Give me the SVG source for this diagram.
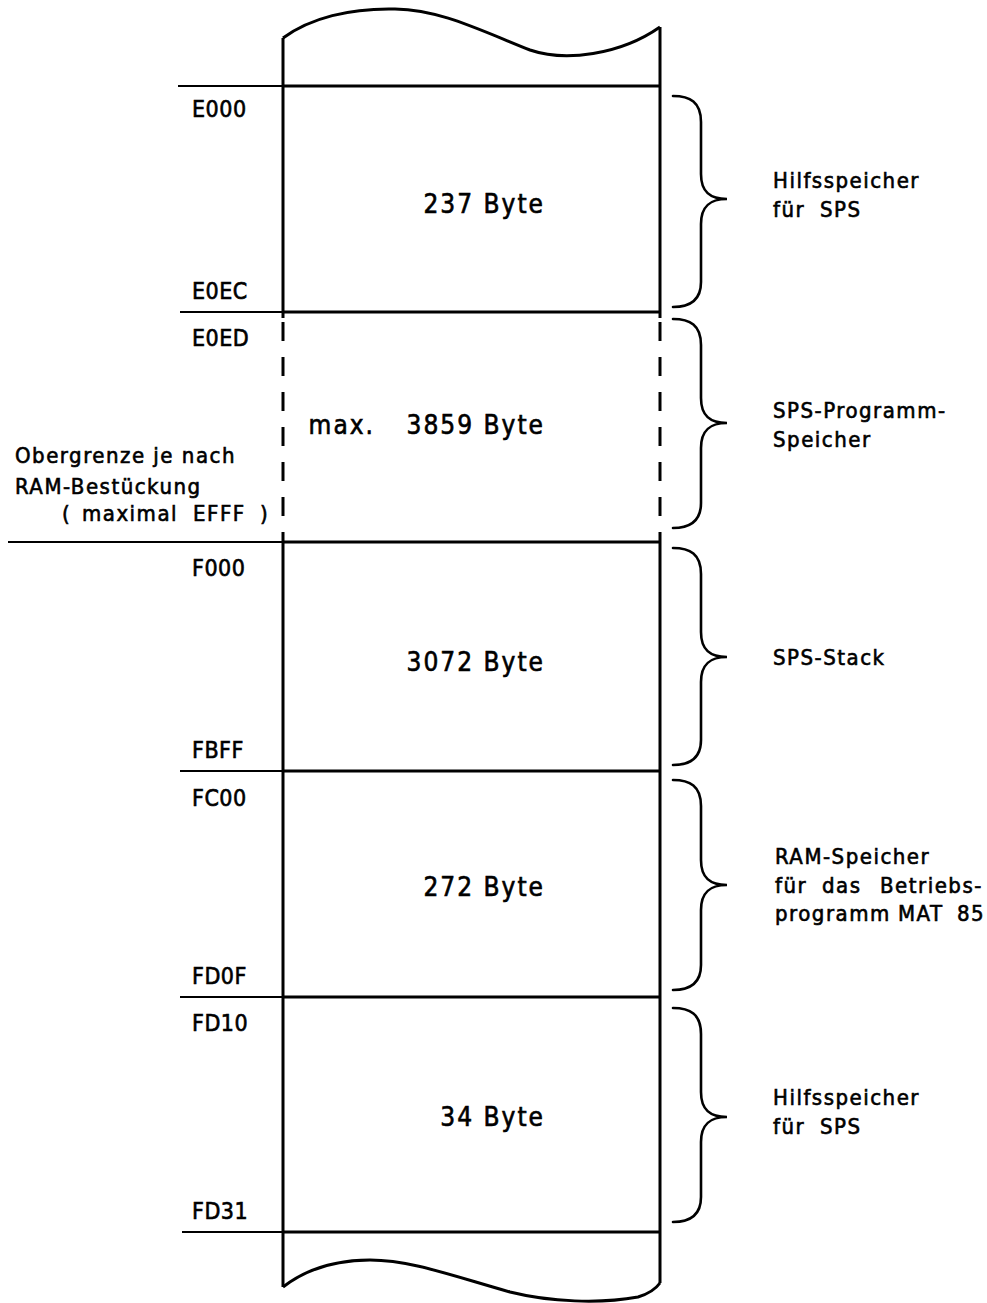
<svg xmlns="http://www.w3.org/2000/svg" width="987" height="1303" viewBox="0 0 987 1303">
<style>
  .ln { stroke:#000; stroke-width:3; fill:none; stroke-linecap:butt; }
  .thin { stroke:#000; stroke-width:2.2; fill:none; }
  .dash { stroke:#000; stroke-width:3; fill:none; stroke-dasharray:19 16; }
  .br { stroke:#000; stroke-width:2.6; fill:none; stroke-linecap:round; }
  text { font-family:"DejaVu Sans Condensed","DejaVu Sans",sans-serif; font-size:22px; fill:#000; stroke:#000; stroke-width:0.6px; letter-spacing:1.5px; }
  .a { font-size:23px; letter-spacing:0.5px; }
  .c { text-anchor:end; font-size:26px; letter-spacing:2px; }
</style>
<rect width="987" height="1303" fill="#fff"/>

<g id="frame">
  <path class="ln" d="M 283 38 C 310 18, 350 8, 395 9 C 440 10, 475 28, 530 50 C 565 62, 620 55, 660 27"/>
  <path class="ln" d="M 283 1287 C 305 1270, 335 1260, 370 1260 C 410 1260, 450 1275, 510 1292 C 550 1302, 600 1304, 638 1297 C 648 1294, 655 1290, 660 1283"/>
  <line class="ln" x1="283" y1="38" x2="283" y2="318"/>
  <line class="ln" x1="660" y1="27" x2="660" y2="318"/>
  <line class="dash" x1="283" y1="322" x2="283" y2="536"/>
  <line class="dash" x1="660" y1="322" x2="660" y2="536"/>
  <line class="ln" x1="283" y1="536" x2="283" y2="1287"/>
  <line class="ln" x1="660" y1="536" x2="660" y2="1283"/>
</g>

<g id="boundaries">
  <line class="thin" x1="178" y1="86" x2="283" y2="86"/><line class="ln" x1="283" y1="86" x2="660" y2="86"/>
  <line class="thin" x1="180" y1="312" x2="283" y2="312"/><line class="ln" x1="283" y1="312" x2="660" y2="312"/>
  <line class="thin" x1="8" y1="542" x2="283" y2="542"/><line class="ln" x1="283" y1="542" x2="660" y2="542"/>
  <line class="thin" x1="180" y1="771" x2="283" y2="771"/><line class="ln" x1="283" y1="771" x2="660" y2="771"/>
  <line class="thin" x1="180" y1="997" x2="283" y2="997"/><line class="ln" x1="283" y1="997" x2="660" y2="997"/>
  <line class="thin" x1="182" y1="1232" x2="283" y2="1232"/><line class="ln" x1="283" y1="1232" x2="660" y2="1232"/>
</g>

<g id="seg-E000">
  <text class="a" x="192" y="117">E000</text>
  <text class="a" x="192" y="299">E0EC</text>
  <text class="c" x="545" y="213">237 Byte</text>
</g>
<g id="seg-E0ED">
  <text class="a" x="192" y="346">E0ED</text>
  <text class="c" x="375" y="434">max.</text>
  <text class="c" x="545" y="434">3859 Byte</text>
  <text x="15" y="463">Obergrenze je nach</text>
  <text x="15" y="494">RAM-Bestückung</text>
  <text y="521"><tspan x="62">(</tspan><tspan x="82">maximal</tspan><tspan x="193">EFFF</tspan><tspan x="260">)</tspan></text>
</g>
<g id="seg-F000">
  <text class="a" x="192" y="576">F000</text>
  <text class="a" x="192" y="758">FBFF</text>
  <text class="c" x="545" y="671">3072 Byte</text>
</g>
<g id="seg-FC00">
  <text class="a" x="192" y="806">FC00</text>
  <text class="a" x="192" y="984">FD0F</text>
  <text class="c" x="545" y="896">272 Byte</text>
</g>
<g id="seg-FD10">
  <text class="a" x="192" y="1031">FD10</text>
  <text class="a" x="192" y="1219">FD31</text>
  <text class="c" x="545" y="1126">34 Byte</text>
</g>

<g id="connectors">
  <path class="br" d="M 673 96 C 690 96, 701 102, 701 122 L 701 174 C 701 192, 710 199, 727 199 C 710 199, 701 206, 701 224 L 701 282 C 701 300, 690 307, 673 307"/>
  <path class="br" d="M 673 319 C 690 319, 701 325, 701 345 L 701 398 C 701 416, 710 423, 727 423 C 710 423, 701 430, 701 448 L 701 503 C 701 521, 690 528, 673 528"/>
  <path class="br" d="M 673 548 C 690 548, 701 554, 701 574 L 701 632 C 701 650, 710 657, 727 657 C 710 657, 701 664, 701 682 L 701 740 C 701 758, 690 765, 673 765"/>
  <path class="br" d="M 673 780 C 690 780, 701 786, 701 806 L 701 860 C 701 878, 710 885, 727 885 C 710 885, 701 892, 701 910 L 701 965 C 701 983, 690 990, 673 990"/>
  <path class="br" d="M 673 1008 C 690 1008, 701 1014, 701 1034 L 701 1092 C 701 1110, 710 1117, 727 1117 C 710 1117, 701 1124, 701 1142 L 701 1197 C 701 1215, 690 1222, 673 1222"/>
</g>

<g id="label-1">
  <text x="773" y="188">Hilfsspeicher</text>
  <text y="217"><tspan x="773">für</tspan><tspan x="820">SPS</tspan></text>
</g>
<g id="label-2">
  <text x="773" y="418">SPS-Programm-</text>
  <text x="773" y="447">Speicher</text>
</g>
<g id="label-3">
  <text x="773" y="665">SPS-Stack</text>
</g>
<g id="label-4">
  <text x="775" y="864">RAM-Speicher</text>
  <text y="893"><tspan x="775">für</tspan><tspan x="822">das</tspan><tspan x="880">Betriebs-</tspan></text>
  <text y="921"><tspan x="775">programm</tspan><tspan x="898">MAT</tspan><tspan x="957">85</tspan></text>
</g>
<g id="label-5">
  <text x="773" y="1105">Hilfsspeicher</text>
  <text y="1134"><tspan x="773">für</tspan><tspan x="820">SPS</tspan></text>
</g>
</svg>
